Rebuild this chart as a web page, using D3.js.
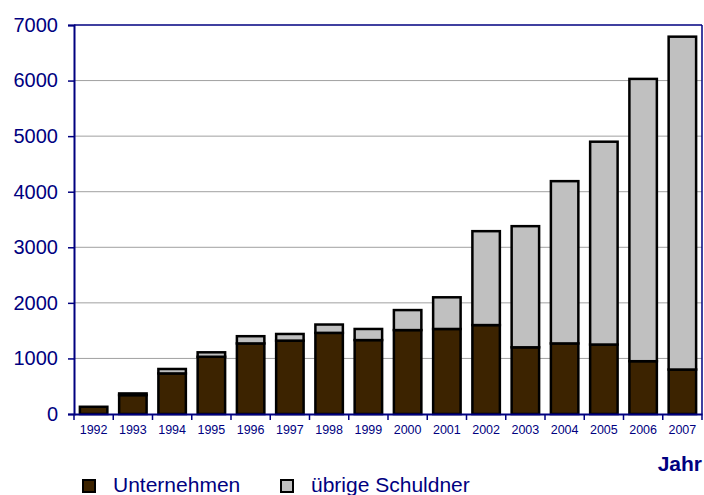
<!DOCTYPE html>
<html>
<head>
<meta charset="utf-8">
<script src="https://cdn.jsdelivr.net/npm/d3@7"></script>
<style>
  body { margin: 0; background: #fff; }
  svg { display: block; font-family: Arial, "Liberation Sans", sans-serif; }
</style>
</head>
<body>
<svg id="chart" width="704" height="495"></svg>
<script>
// data
const years = ["1992","1993","1994","1995","1996","1997","1998","1999","2000","2001","2002","2003","2004","2005","2006","2007"];
const unternehmen = [130, 340, 730, 1030, 1270, 1320, 1460, 1330, 1510, 1530, 1600, 1200, 1270, 1250, 950, 800];
const uebrige = [0, 30, 80, 80, 130, 120, 150, 200, 360, 570, 1690, 2180, 2920, 3650, 5080, 5990];
const yTicks = [0, 1000, 2000, 3000, 4000, 5000, 6000, 7000];
const seriesNames = ["Unternehmen", "übrige Schuldner"];
const seriesColors = ["#3c2300", "#c0c0c0"];

const navy = "#000080";
const svg = d3.select("#chart");
const margin = { left: 74, right: 2, top: 25, bottom: 81 };
const width = 704 - margin.left - margin.right;
const height = 495 - margin.top - margin.bottom;

const x = d3.scaleBand().domain(years).range([0, width]).paddingInner(0.3).paddingOuter(0.15);
const y = d3.scaleLinear().domain([0, 7000]).range([height, 0]);

const g = svg.append("g").attr("transform", `translate(${margin.left},${margin.top})`);

// gridlines
g.selectAll("line.grid")
  .data(yTicks.filter(d => d > 0 && d < 7000))
  .join("line")
  .attr("class", "grid")
  .attr("x1", 0).attr("x2", width)
  .attr("y1", d => y(d)).attr("y2", d => y(d))
  .attr("stroke", "#a0a0a0").attr("stroke-width", 1);

// stacked bars
const rows = years.map((yr, i) => ({ year: yr, Unternehmen: unternehmen[i], "übrige Schuldner": uebrige[i] }));
const stacked = d3.stack().keys(seriesNames)(rows);

g.selectAll("g.series")
  .data(stacked)
  .join("g")
  .attr("class", "series")
  .attr("fill", (d, i) => seriesColors[i])
  .selectAll("rect")
  .data(d => d.filter(p => p[1] - p[0] > 0))
  .join("rect")
  .attr("x", d => x(d.data.year))
  .attr("width", x.bandwidth())
  .attr("y", d => y(d[1]))
  .attr("height", d => y(d[0]) - y(d[1]))
  .attr("stroke", "#000")
  .attr("stroke-width", 2.5);

// frame: top and right
g.append("line").attr("x1", 0).attr("x2", width).attr("y1", 0).attr("y2", 0)
  .attr("stroke", navy).attr("stroke-width", 1.5);
g.append("line").attr("x1", width).attr("x2", width).attr("y1", 0).attr("y2", height)
  .attr("stroke", navy).attr("stroke-width", 1.5);

// y axis
const yAxis = g.append("g")
  .call(d3.axisLeft(y).tickValues(yTicks).tickSize(6).tickPadding(10).tickFormat(d3.format("d")));
yAxis.select(".domain").attr("stroke", navy).attr("stroke-width", 2);
yAxis.selectAll(".tick line").attr("stroke", navy).attr("stroke-width", 1.5);
yAxis.selectAll("text").attr("fill", navy).style("font-size", "20px");

// x axis, ticks sit between the bars
const xAxis = g.append("g").attr("transform", `translate(0,${height})`)
  .call(d3.axisBottom(x).tickSize(0).tickPadding(11));
xAxis.select(".domain").attr("stroke", navy).attr("stroke-width", 2);
xAxis.selectAll("text").attr("fill", navy).style("font-size", "12.5px");
xAxis.selectAll("line.sep")
  .data(d3.range(years.length + 1))
  .join("line")
  .attr("class", "sep")
  .attr("x1", i => i * x.step())
  .attr("x2", i => i * x.step())
  .attr("y1", 0).attr("y2", 6)
  .attr("stroke", navy).attr("stroke-width", 1.5);

// axis title
svg.append("text")
  .attr("x", 702).attr("y", 471)
  .attr("text-anchor", "end")
  .attr("fill", navy)
  .style("font-size", "21px").style("font-weight", "bold")
  .text("Jahr");

// legend
const legendX = [82, 280];
const legend = svg.selectAll("g.legend")
  .data(seriesNames)
  .join("g")
  .attr("class", "legend")
  .attr("transform", (d, i) => `translate(${legendX[i]},479)`);
legend.append("rect")
  .attr("x", 1).attr("y", 1).attr("width", 12).attr("height", 12)
  .attr("fill", (d, i) => seriesColors[i])
  .attr("stroke", "#000").attr("stroke-width", 2);
legend.append("text")
  .attr("x", 31).attr("y", 13)
  .attr("fill", navy)
  .style("font-size", "21px")
  .text(d => d);
</script>
</body>
</html>
